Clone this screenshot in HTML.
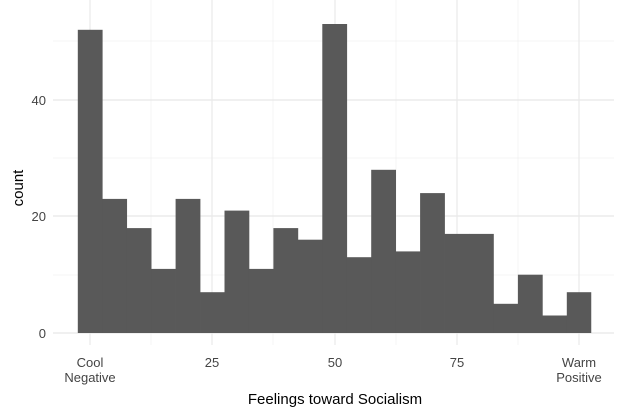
<!DOCTYPE html>
<html><head><meta charset="utf-8"><style>
html,body{margin:0;padding:0;background:#fff;}
svg{display:block;font-family:"Liberation Sans",sans-serif;}
</style></head><body>
<svg width="624" height="416" viewBox="0 0 624 416" xmlns="http://www.w3.org/2000/svg">
<rect width="624" height="416" fill="#fff"/>
<g stroke="#f2f2f2" stroke-width="0.8">
<line x1="53" x2="614" y1="275" y2="275"/><line x1="53" x2="614" y1="158" y2="158"/><line x1="53" x2="614" y1="41" y2="41"/>
<line x1="151" x2="151" y1="0" y2="345"/><line x1="273" x2="273" y1="0" y2="345"/><line x1="396" x2="396" y1="0" y2="345"/><line x1="518" x2="518" y1="0" y2="345"/>
</g>
<g stroke="#e8e8e8" stroke-width="1.2">
<line x1="53" x2="614" y1="333" y2="333"/><line x1="53" x2="614" y1="216" y2="216"/><line x1="53" x2="614" y1="100" y2="100"/>
<line x1="90" x2="90" y1="0" y2="345"/><line x1="212" x2="212" y1="0" y2="345"/><line x1="335" x2="335" y1="0" y2="345"/><line x1="457" x2="457" y1="0" y2="345"/><line x1="579" x2="579" y1="0" y2="345"/>
</g>
<g fill="#595959">
<rect x="77.8" y="29.8" width="24.8" height="303.2"/>
<rect x="102.25" y="198.9" width="24.8" height="134.1"/>
<rect x="126.7" y="228.1" width="24.8" height="104.9"/>
<rect x="151.15" y="268.9" width="24.8" height="64.1"/>
<rect x="175.6" y="198.9" width="24.8" height="134.1"/>
<rect x="200.05" y="292.2" width="24.8" height="40.8"/>
<rect x="224.5" y="210.6" width="24.8" height="122.4"/>
<rect x="248.95" y="268.9" width="24.8" height="64.1"/>
<rect x="273.4" y="228.1" width="24.8" height="104.9"/>
<rect x="297.85" y="239.7" width="24.8" height="93.3"/>
<rect x="322.3" y="24" width="24.8" height="309"/>
<rect x="346.75" y="257.2" width="24.8" height="75.8"/>
<rect x="371.2" y="169.8" width="24.8" height="163.2"/>
<rect x="395.65" y="251.4" width="24.8" height="81.6"/>
<rect x="420.1" y="193.1" width="24.8" height="139.9"/>
<rect x="444.55" y="233.9" width="24.8" height="99.1"/>
<rect x="469" y="233.9" width="24.8" height="99.1"/>
<rect x="493.45" y="303.8" width="24.8" height="29.2"/>
<rect x="517.9" y="274.7" width="24.8" height="58.3"/>
<rect x="542.35" y="315.5" width="24.8" height="17.5"/>
<rect x="566.8" y="292.2" width="24.45" height="40.8"/>
</g>
<g fill="#444" font-size="13" text-anchor="end">
<text x="46" y="338">0</text><text x="46" y="221">20</text><text x="46" y="105">40</text>
</g>
<g fill="#444" font-size="13" text-anchor="middle">
<text x="90" y="367">Cool</text><text x="90" y="382">Negative</text>
<text x="212" y="367">25</text><text x="335" y="367">50</text><text x="457" y="367">75</text>
<text x="579" y="367">Warm</text><text x="579" y="382">Positive</text>
</g>
<text x="335" y="404" font-size="15" text-anchor="middle" fill="#000">Feelings toward Socialism</text>
<text transform="translate(23,188) rotate(-90)" font-size="15" text-anchor="middle" fill="#000">count</text>
</svg>
</body></html>
